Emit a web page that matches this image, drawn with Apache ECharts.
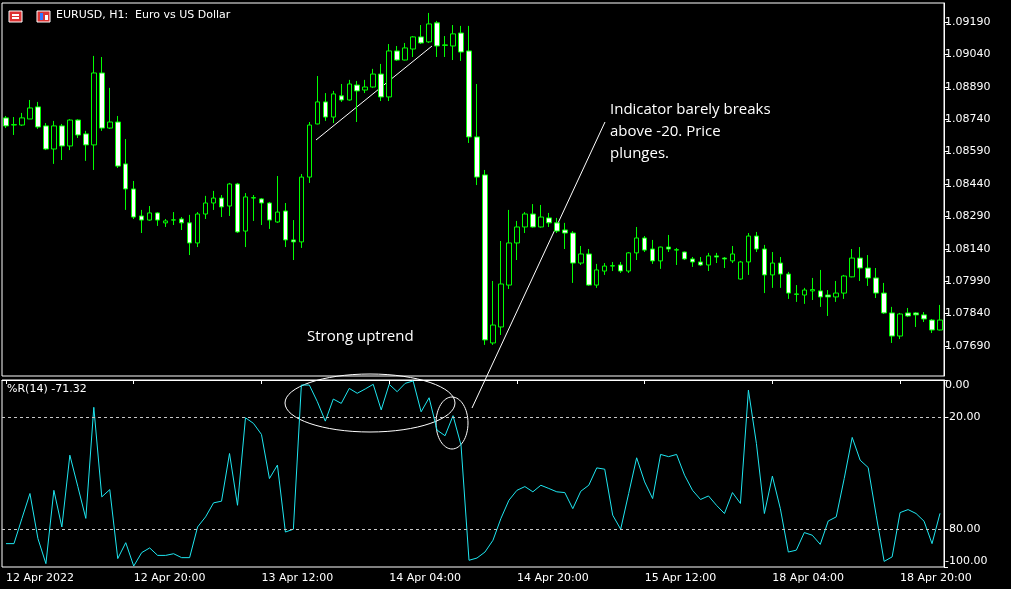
<!DOCTYPE html>
<html><head><meta charset="utf-8">
<script src="https://cdn.jsdelivr.net/npm/echarts@6/dist/echarts.min.js"></script>
<style>html,body{margin:0;padding:0;background:#000;}#c{width:1011px;height:589px;}</style>
</head><body><div id="c"></div>
<script>
const opens=[1.08746,1.08713,1.08713,1.08741,1.08797,1.08709,1.08602,1.08709,1.08616,1.08736,1.08672,1.08621,1.08954,1.08699,1.08727,1.08533,1.08417,1.08292,1.08273,1.08306,1.08260,1.08273,1.08278,1.08260,1.08167,1.08301,1.08352,1.08375,1.08338,1.08440,1.08222,1.08375,1.08371,1.08352,1.08264,1.08315,1.08181,1.08172,1.08472,1.08718,1.08820,1.08750,1.08848,1.08829,1.08898,1.08875,1.08889,1.08949,1.08843,1.09056,1.09014,1.09065,1.09121,1.09098,1.09186,1.09084,1.09079,1.09139,1.09056,1.08658,1.08482,1.07704,1.07778,1.07972,1.08167,1.08241,1.08301,1.08241,1.08283,1.08260,1.08227,1.08213,1.08074,1.08116,1.07972,1.08037,1.08060,1.08065,1.08037,1.08121,1.08190,1.08139,1.08084,1.08148,1.08134,1.08125,1.08093,1.08079,1.08065,1.08107,1.08097,1.08084,1.08000,1.08079,1.08199,1.08139,1.08019,1.08074,1.08023,1.07931,1.07926,1.07945,1.07945,1.07926,1.07917,1.07935,1.08010,1.08097,1.08051,1.08005,1.07935,1.07843,1.07736,1.07843,1.07843,1.07834,1.07810,1.07764];
const closes=[1.08709,1.08715,1.08746,1.08792,1.08704,1.08602,1.08709,1.08616,1.08736,1.08667,1.08621,1.08954,1.08699,1.08727,1.08523,1.08417,1.08287,1.08273,1.08306,1.08273,1.08269,1.08274,1.08260,1.08167,1.08301,1.08352,1.08375,1.08334,1.08440,1.08218,1.08380,1.08377,1.08352,1.08273,1.08310,1.08181,1.08172,1.08472,1.08713,1.08820,1.08750,1.08857,1.08829,1.08903,1.08871,1.08889,1.08949,1.08843,1.09056,1.09014,1.09070,1.09121,1.09093,1.09181,1.09079,1.09082,1.09135,1.09051,1.08658,1.08472,1.07718,1.07787,1.07977,1.08167,1.08241,1.08301,1.08241,1.08287,1.08260,1.08222,1.08213,1.08074,1.08116,1.07972,1.08042,1.08060,1.08062,1.08037,1.08121,1.08190,1.08134,1.08084,1.08148,1.08139,1.08136,1.08093,1.08079,1.08065,1.08107,1.08102,1.08093,1.08116,1.08079,1.08199,1.08139,1.08019,1.08074,1.08023,1.07935,1.07929,1.07949,1.07951,1.07917,1.07917,1.07935,1.08014,1.08097,1.08051,1.08005,1.07935,1.07843,1.07736,1.07838,1.07829,1.07834,1.07815,1.07764,1.07810];
const lows=[1.08699,1.08667,1.08709,1.08741,1.08695,1.08597,1.08533,1.08551,1.08597,1.08653,1.08547,1.08505,1.08686,1.08695,1.08514,1.08320,1.08278,1.08213,1.08270,1.08246,1.08241,1.08250,1.08227,1.08111,1.08148,1.08278,1.08320,1.08287,1.08292,1.08213,1.08148,1.08269,1.08250,1.08232,1.08260,1.08148,1.08088,1.08144,1.08445,1.08716,1.08732,1.08722,1.08820,1.08826,1.08727,1.08861,1.08885,1.08824,1.08824,1.09010,1.09012,1.09028,1.09088,1.09093,1.09028,1.09028,1.09014,1.09010,1.08630,1.08435,1.07695,1.07695,1.07741,1.07954,1.08088,1.08213,1.08238,1.08238,1.08241,1.08213,1.08139,1.07982,1.08065,1.07968,1.07959,1.08019,1.08037,1.08028,1.08028,1.08088,1.08125,1.08070,1.08047,1.08125,1.08065,1.08088,1.08056,1.08060,1.08037,1.08074,1.08051,1.08074,1.07997,1.08019,1.08125,1.07935,1.07959,1.07959,1.07908,1.07894,1.07885,1.07903,1.07871,1.07829,1.07894,1.07908,1.08008,1.07991,1.07968,1.07912,1.07838,1.07704,1.07722,1.07824,1.07778,1.07801,1.07750,1.07762];
const highs=[1.08755,1.08750,1.08769,1.08829,1.08820,1.08722,1.08732,1.08718,1.08740,1.08740,1.08686,1.09033,1.09028,1.08885,1.08755,1.08648,1.08454,1.08320,1.08338,1.08310,1.08278,1.08310,1.08287,1.08297,1.08310,1.08385,1.08408,1.08389,1.08445,1.08445,1.08398,1.08389,1.08375,1.08357,1.08477,1.08352,1.08273,1.08486,1.08727,1.08940,1.08861,1.08871,1.08903,1.08922,1.08917,1.08922,1.08973,1.08996,1.09088,1.09079,1.09093,1.09125,1.09176,1.09232,1.09195,1.09125,1.09176,1.09172,1.09172,1.08903,1.08505,1.07991,1.08176,1.08320,1.08269,1.08310,1.08347,1.08343,1.08306,1.08283,1.08260,1.08222,1.08153,1.08139,1.08070,1.08074,1.08079,1.08079,1.08125,1.08241,1.08199,1.08181,1.08150,1.08204,1.08144,1.08127,1.08102,1.08102,1.08121,1.08121,1.08102,1.08153,1.08084,1.08213,1.08218,1.08158,1.08125,1.08102,1.08033,1.07972,1.07959,1.08005,1.08042,1.07949,1.07991,1.08019,1.08139,1.08148,1.08111,1.08051,1.07982,1.07871,1.07843,1.07866,1.07847,1.07847,1.07815,1.07880];
const wpr=[-87.5,-87.5,-74,-60.7,-84.8,-98.2,-59,-78.6,-40.2,-57,-74,-14.6,-62.5,-58.6,-95.5,-87,-99.5,-92.3,-89.8,-93.8,-93.8,-92.9,-95,-95,-78.6,-73.2,-65.7,-64.8,-39.3,-67,-20.2,-23.2,-29.1,-52.7,-45.5,-81.3,-79.8,-2.7,-2.7,-11.6,-22,-10.2,-12.5,-4.5,-7.1,-4.8,-2.3,-16,-2.3,-6.25,-1.8,-0.5,-17,-9.5,-26.8,-29.8,-19.1,-34.8,-96.4,-95.2,-92,-85.7,-74,-64.3,-59,-57,-59.8,-56.3,-58,-59.8,-60.2,-68.8,-59.5,-56.3,-47,-47.7,-72.3,-79.8,-60.7,-41.6,-54.5,-63.4,-39.8,-41,-39.8,-50.9,-59,-63.9,-62,-67,-71.4,-60.2,-66,-5.4,-33.9,-71.4,-51.4,-68.8,-92,-91,-81.6,-83,-87.9,-75.4,-73.2,-52.7,-30.7,-42.9,-46.8,-72.3,-97,-94.6,-70.9,-69.3,-71.4,-75.5,-87.5,-71.32];
const tickIndex=[0,16,32,48,64,80,96,112];
const tickLabels=['12 Apr 2022','12 Apr 20:00','13 Apr 12:00','14 Apr 04:00','14 Apr 20:00','15 Apr 12:00','18 Apr 04:00','18 Apr 20:00'];
const priceTicks=[1.07690,1.07840,1.07990,1.08140,1.08290,1.08440,1.08590,1.08740,1.08890,1.09040,1.09190];
const wprTicks=[0,-20,-80,-100];
const wprTickLabels=['0.00','-20.00','-80.00','-100.00'];
const wprLevels=[-20,-80];

const cats=opens.map((_,i)=>String(i));
const ohlc=opens.map((o,i)=>[o,closes[i],lows[i],highs[i]]);
const FONT='DejaVu Sans';
const chart=echarts.init(document.getElementById('c'));
const xCommon={type:'category',data:cats,boundaryGap:true,axisLine:{show:false},axisTick:{show:false},axisLabel:{show:false},splitLine:{show:false}};
chart.setOption({
 backgroundColor:'#000',animation:false,
 grid:[{left:2,top:3,width:942,height:373,show:true,borderColor:'#fff',borderWidth:1},
       {left:2,top:380,width:942,height:187,show:true,borderColor:'#fff',borderWidth:1}],
 xAxis:[Object.assign({gridIndex:0},xCommon),
   {gridIndex:1,type:'category',data:cats,boundaryGap:true,position:'bottom',
    axisLine:{show:true,lineStyle:{color:'#fff'}},
    axisTick:{show:true,interval:(i)=>tickIndex.includes(i),alignWithLabel:true,length:4,lineStyle:{color:'#fff'}},
    axisLabel:{interval:(i)=>tickIndex.includes(i),color:'#fff',fontFamily:FONT,fontSize:11,align:'left',margin:6,
      formatter:(v,i)=>tickLabels[tickIndex.indexOf(i)]||''},splitLine:{show:false}}],
 yAxis:[{gridIndex:0,type:'value',position:'right',min:1.07551,max:1.09278,scale:true,
    axisLine:{show:true,lineStyle:{color:'#fff'}},splitLine:{show:false},
    axisTick:{show:true,customValues:priceTicks,length:4,lineStyle:{color:'#fff'}},
    axisLabel:{customValues:priceTicks,color:'#fff',fontFamily:FONT,fontSize:11,margin:1,formatter:v=>v.toFixed(5)}},
   {gridIndex:1,type:'value',position:'right',min:-100,max:0,
    axisLine:{show:true,lineStyle:{color:'#fff'}},splitLine:{show:false},
    axisTick:{show:true,customValues:wprTicks,length:4,lineStyle:{color:'#fff'}},
    axisLabel:{customValues:wprTicks,color:'#fff',fontFamily:FONT,fontSize:11,margin:1,
      verticalAlignMaxLabel:'bottom',verticalAlignMinLabel:'top',
      formatter:v=>{const k=wprTicks.findIndex(t=>Math.abs(t-v)<1e-6);return k>=0?wprTickLabels[k]:'';}}}],
 series:[
  {type:'candlestick',xAxisIndex:0,yAxisIndex:0,data:ohlc,barWidth:5,
   itemStyle:{color:'#000',color0:'#fff',borderColor:'#00ff00',borderColor0:'#00ff00',borderWidth:1}},
  {type:'line',xAxisIndex:1,yAxisIndex:1,data:wpr,symbol:'none',lineStyle:{color:'#1ee6f0',width:1},
   markLine:{silent:true,symbol:'none',label:{show:false},lineStyle:{color:'#c8c8c8',type:[3,3],width:1},
     data:wprLevels.map(v=>({yAxis:v}))}}
 ],
 graphic:[
  {type:'rect',shape:{x:9,y:11,width:13,height:11},style:{fill:'#d33',stroke:'#fff',lineWidth:1}},
  {type:'rect',shape:{x:12,y:14,width:7,height:2},style:{fill:'#fff'}},
  {type:'rect',shape:{x:12,y:17,width:7,height:2},style:{fill:'#fff'}},
  {type:'rect',shape:{x:37,y:11,width:13,height:11},style:{fill:'#d33',stroke:'#fff',lineWidth:1}},
  {type:'rect',shape:{x:40,y:13,width:3,height:7},style:{fill:'#37f'}},
  {type:'rect',shape:{x:45,y:15,width:3,height:5},style:{fill:'#fff'}},
  {type:'text',left:56,top:10,style:{text:'EURUSD, H1:  Euro vs US Dollar',fill:'#fff',font:'11px "DejaVu Sans"'}},
  {type:'text',left:7,top:384,style:{text:'%R(14) -71.32',fill:'#fff',font:'11px "DejaVu Sans"'}},
  {type:'line',shape:{x1:316,y1:140,x2:432,y2:46},style:{stroke:'#fff',lineWidth:1}},
  {type:'line',shape:{x1:472,y1:408,x2:605,y2:122},style:{stroke:'#fff',lineWidth:1}},
  {type:'text',left:610,top:99,style:{text:'Indicator barely breaks\nabove -20. Price\nplunges.',fill:'#fff',font:'15px "Open Sans"',lineHeight:22}},
  {type:'text',left:307,top:329,style:{text:'Strong uptrend',fill:'#fff',font:'15px "Open Sans"'}},
  {type:'ellipse',shape:{cx:370,cy:403,rx:85,ry:29},style:{fill:'none',stroke:'#fff',lineWidth:1}},
  {type:'ellipse',shape:{cx:452,cy:423,rx:16,ry:26},style:{fill:'none',stroke:'#fff',lineWidth:1}}
 ]
});
</script></body></html>
